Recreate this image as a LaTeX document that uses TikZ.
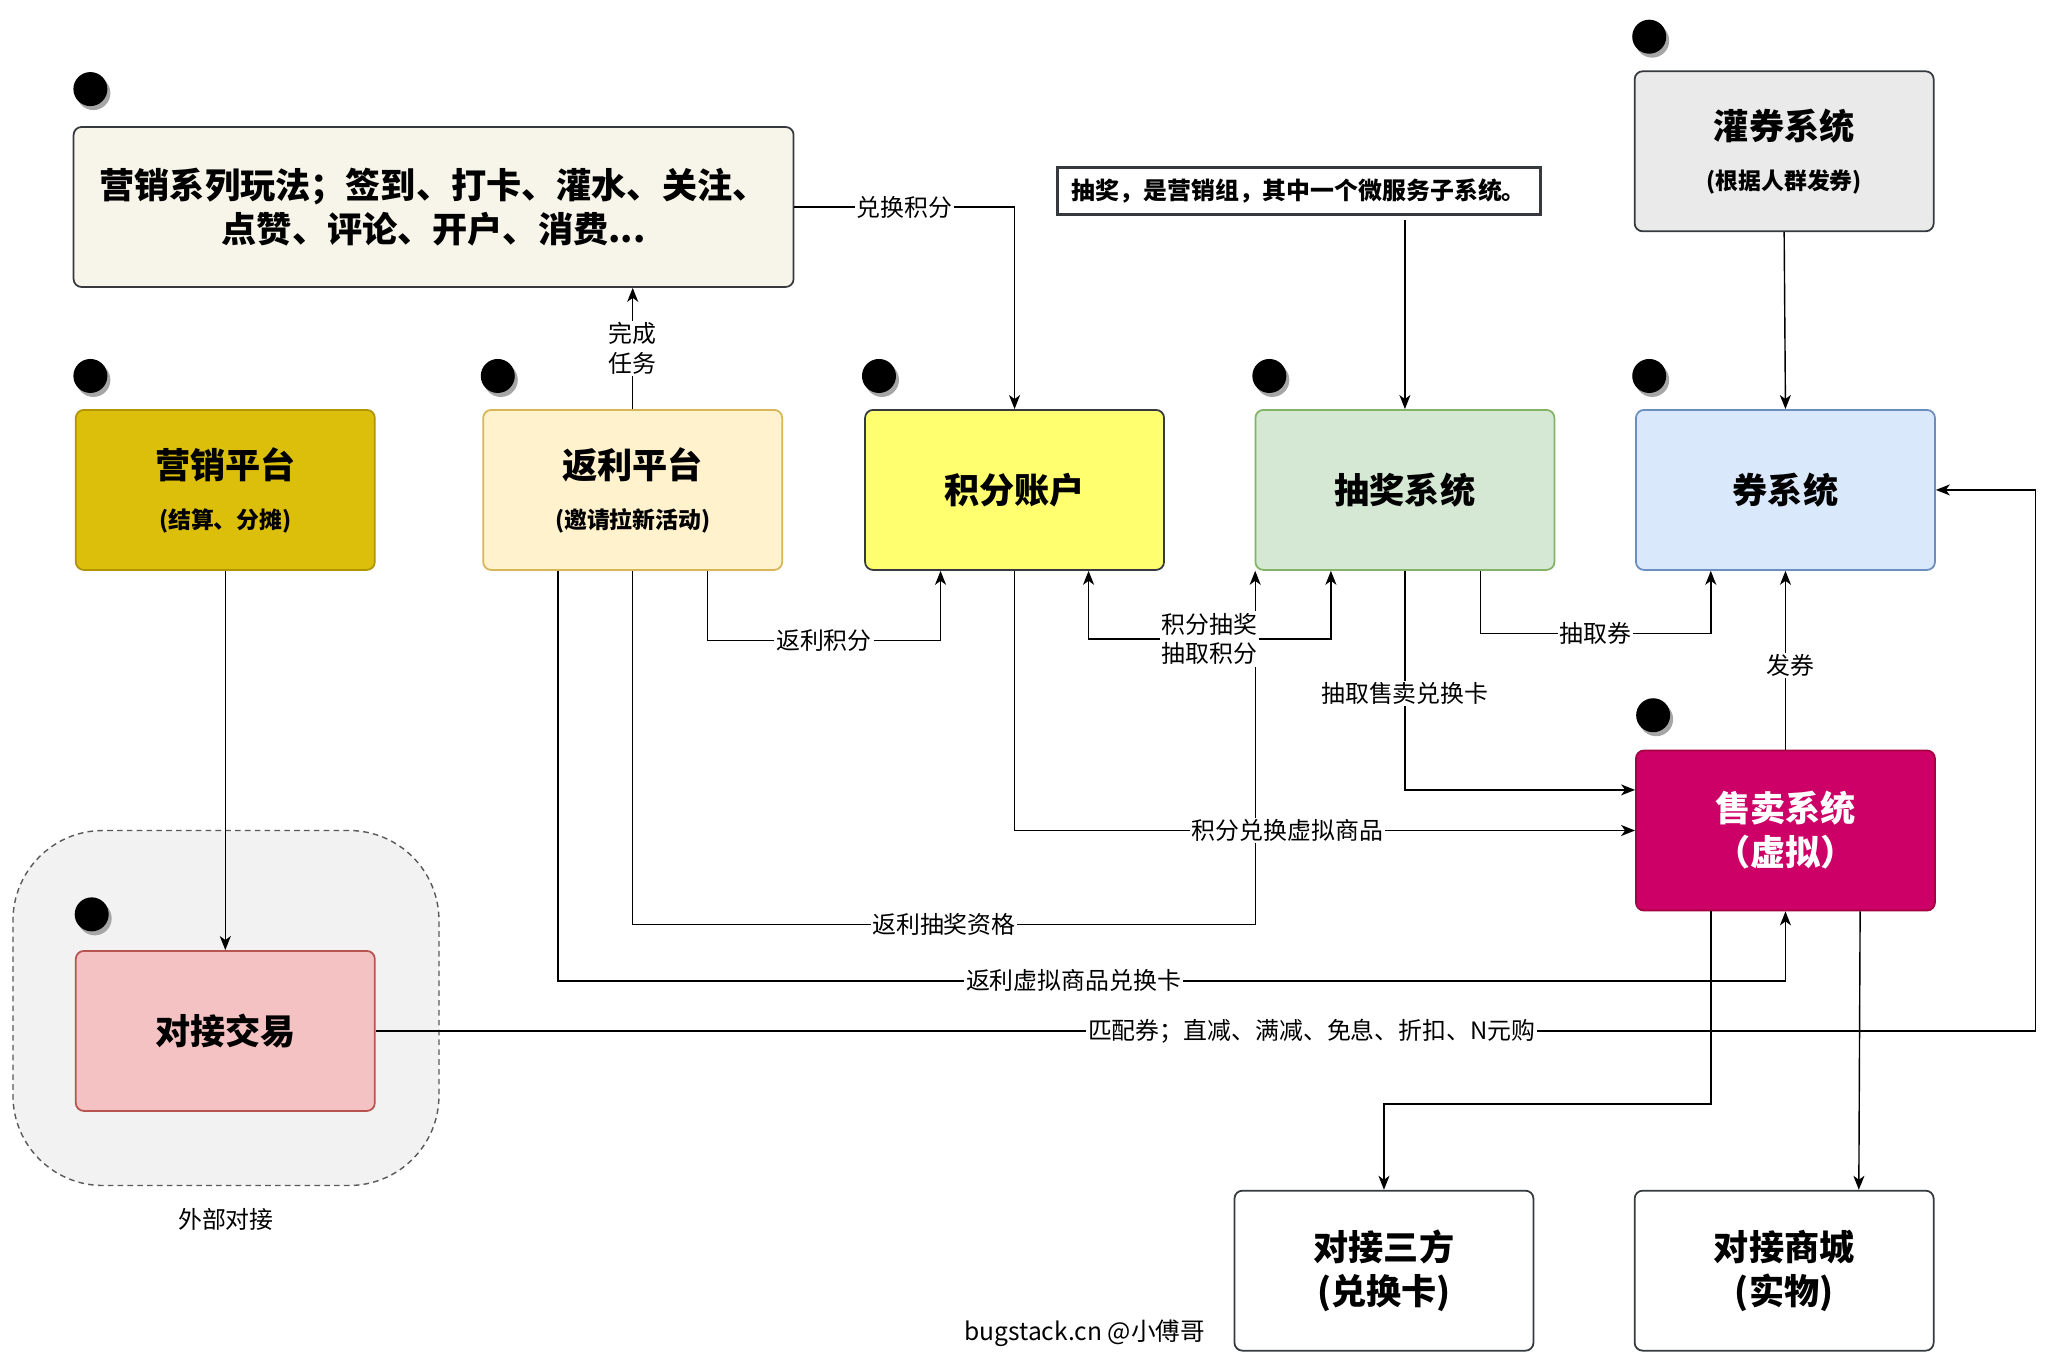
\documentclass[tikz,border=0pt]{standalone}
\usepackage{fontspec}
\setmainfont{Noto Sans CJK SC}
\usetikzlibrary{arrows.meta,calc,positioning,shadows}
\definecolor{mktgold}{HTML}{DBBF0A}
\definecolor{mktline}{HTML}{B09500}
\definecolor{rebfill}{HTML}{FFF2CC}
\definecolor{rebline}{HTML}{D6B656}
\definecolor{ptsfill}{HTML}{FFFF70}
\definecolor{darkline}{HTML}{36393D}
\definecolor{lotfill}{HTML}{D5E8D4}
\definecolor{lotline}{HTML}{82B366}
\definecolor{cpnfill}{HTML}{DAE8FC}
\definecolor{cpnline}{HTML}{6C8EBF}
\definecolor{grantfill}{HTML}{EAEAEA}
\definecolor{playfill}{HTML}{F7F5EA}
\definecolor{salefill}{HTML}{CC0066}
\definecolor{saleline}{HTML}{A50040}
\definecolor{tradefill}{HTML}{F4C2C2}
\definecolor{tradeline}{HTML}{B85450}
\definecolor{grpfill}{HTML}{F2F2F2}
\newcommand{\subt}[1]{{\fontsize{6.5}{8}\selectfont #1}}

\begin{document}
\begin{tikzpicture}[x=0.131mm,y=-0.131mm,
    >={Stealth[length=1.4mm,width=1.1mm,inset=0.4mm]},
    sys/.style={draw=darkline, rounded corners=0.8mm, minimum width=29.9mm, minimum height=16mm,
      align=center, inner sep=0pt, line width=0.5pt, font=\fontsize{10}{12.5}\selectfont\bfseries},
    lbl/.style={fill=white, inner sep=0.5pt, align=center, font=\fontsize{6.8}{8.4}\selectfont},
    startdot/.style={circle, fill=black, minimum size=3.4mm, inner sep=0pt,
      drop shadow={shadow xshift=0.3mm, shadow yshift=-0.4mm, fill=black!35, opacity=1}},
    flow/.style={->, line width=0.4pt},
  ]
  \useasboundingbox (0,0) rectangle (1568,1046);

  \node[draw=black!65, dash pattern=on 1.6pt off 1.2pt, fill=grpfill, rounded corners=9mm, minimum width=42.6mm,
    minimum height=35.5mm] (grp) at (172.5,769.5) {};
  \node[lbl, fill=none, below=2mm of grp] (grplbl) {外部对接};

  \node[sys, fill=playfill, minimum width=72mm] (play) at (331,158)
    {营销系列玩法；签到、打卡、灌水、关注、\\点赞、评论、开户、消费...};
  \node[sys, fill=mktgold, draw=mktline] (mkt) at (172,374) {营销平台\\[0.6mm]\subt{(结算、分摊)}};
  \node[sys, fill=rebfill, draw=rebline] (rebate) at (483,374) {返利平台\\[0.6mm]\subt{(邀请拉新活动)}};
  \node[sys, fill=ptsfill] (points) at (774.5,374) {积分账户};
  \node[sys, fill=lotfill, draw=lotline] (lottery) at (1072.5,374) {抽奖系统};
  \node[sys, fill=cpnfill, draw=cpnline] (coupon) at (1363,374) {券系统};
  \node[sys, fill=grantfill] (grant) at (1362,115.5) {灌券系统\\[0.6mm]\subt{(根据人群发券)}};
  \node[draw=darkline, line width=0.8pt, minimum width=48.3mm, minimum height=4.7mm, inner sep=0pt,
    font=\fontsize{6.8}{8}\selectfont\bfseries] (note) at (991.5,146) {抽奖，是营销组，其中一个微服务子系统。};
  \node[sys, fill=salefill, draw=saleline, text=white] (sale) at (1363,634) {售卖系统\\（虚拟）};
  \node[sys, fill=tradefill, draw=tradeline] (trade) at (172,787) {对接交易};
  \node[sys, fill=white] (third) at (1056.5,970) {对接三方\\(兑换卡)};
  \node[sys, fill=white] (mall) at (1362,970) {对接商城\\(实物)};
  \node[font=\fontsize{7}{8}\selectfont] (sign) at (828,1018) {bugstack.cn @小傅哥};

  \node[startdot] (d1) at (69,68) {};
  \node[startdot] (d2) at (69,287) {};
  \node[startdot] (d3) at (380,287) {};
  \node[startdot] (d4) at (671,287) {};
  \node[startdot] (d5) at (969,287) {};
  \node[startdot] (d6) at (1259,28) {};
  \node[startdot] (d7) at (1259,287) {};
  \node[startdot] (d8) at (1262,546) {};
  \node[startdot] (d9) at (70,698) {};

  \draw[flow] (play.east) -| node[lbl, pos=0.25] {兑换积分} (points.north);
  \draw[flow] (rebate.north) -- node[lbl] {完成\\任务} (rebate.north |- play.south);
  \draw[flow] (lottery.north |- note.south) ++(0,3) -- (lottery.north);
  \draw[flow] (grant.south) -- (coupon.north);
  \draw[flow] (mkt.south) -- (trade.north);
  \draw[flow] (rebate.south) -- ++(0,270) -| node[lbl, pos=0.25] {返利抽奖资格} ($(lottery.south west)+(0.5,0)$);
  \draw[flow] ($(rebate.south)+(57,0)$) -- ++(0,53) -| node[lbl, pos=0.25] {返利积分} ($(points.south)+(-56.5,0)$);
  \draw[flow, <->] ($(points.south)+(56.5,0)$) -- ++(0,52)
    -| node[lbl, pos=0.25] {积分抽奖\\抽取积分} ($(lottery.south)+(-56.5,0)$);
  \draw[flow] (points.south) |- node[lbl, pos=0.72] {积分兑换虚拟商品} (sale.west);
  \draw[flow] (lottery.south) |- node[lbl, pos=0.28] {抽取售卖兑换卡} ($(sale.west)+(0,-31)$);
  \draw[flow] ($(lottery.south)+(57.5,0)$) -- ++(0,48) -| node[lbl, pos=0.25] {抽取券} ($(coupon.south)+(-57,0)$);
  \draw[flow] (sale.north) -- node[lbl, pos=0.47, xshift=0.5mm] {发券} (coupon.south);
  \draw[flow] ($(rebate.south)+(-57,0)$) -- ++(0,313) -| node[lbl, pos=0.21] {返利虚拟商品兑换卡} (sale.south);
  \draw[flow] (trade.east) -- node[lbl, pos=0.564] {匹配券；直减、满减、免息、折扣、N元购} ++(1267,0) |- (coupon.east);
  \draw[flow] ($(sale.south)+(-57,0)$) -- ++(0,147) -| (third.north);
  \draw[flow] ($(sale.south)+(57,0)$) -- ($(mall.north)+(57,0)$);
\end{tikzpicture}
\end{document}
